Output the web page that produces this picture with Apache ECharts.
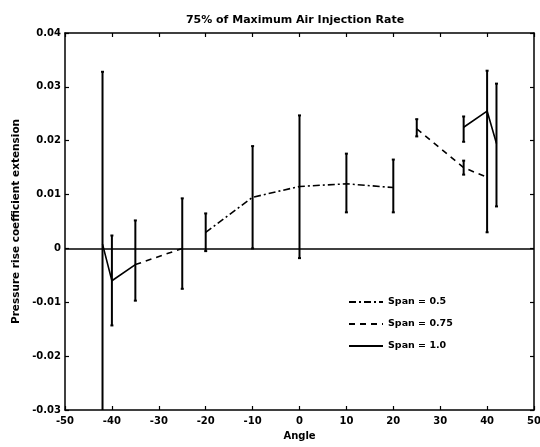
<!DOCTYPE html>
<html><head><meta charset="utf-8">
<script src="https://cdn.jsdelivr.net/npm/echarts@6/dist/echarts.min.js"></script>
<style>html,body{margin:0;padding:0;background:#fff}#c{width:540px;height:447px}</style>
</head><body><div id="c"></div>
<script>
const titleText = '75% of Maximum Air Injection Rate';
const xTicks = [-50,-40,-30,-20,-10,0,10,20,30,40,50];
const yTicks = [-0.03,-0.02,-0.01,0,0.01,0.02,0.03,0.04];
// Span = 0.5 (dash-dot)
const span05 = [[-20,0.003],[-10,0.0095],[0,0.0115],[10,0.012],[20,0.0113]];
// Span = 0.75 (dashed), two segments
const span075a = [[-35,-0.003],[-25,0.0]];
const span075b = [[25,0.0222],[35,0.015],[40,0.0132]];
// Span = 1.0 (solid), two segments
const span10a = [[-42,0.0008],[-40,-0.006],[-35,-0.003]];
const span10b = [[35,0.0225],[40,0.0255],[42,0.0195]];
// error bars [x, low, high]
const errBars = [
  [-42,-0.031,0.0328],[-40,-0.0143,0.0024],[-35,-0.0097,0.0052],
  [-25,-0.0075,0.0093],[-20,-0.0005,0.0065],[-10,0.0,0.019],
  [0,-0.0018,0.0247],[10,0.0067,0.0176],[20,0.0067,0.0165],
  [25,0.0208,0.024],[35,0.0137,0.0163],[35,0.0198,0.0245],
  [40,0.003,0.033],[42,0.0078,0.0306]
];
const ff = 'DejaVu Sans, Liberation Sans, Arial, sans-serif';
const chart = echarts.init(document.getElementById('c'));
const dashDot = [7,3,2,3];
const dashed = [6,5];
function lineSeries(name, data, type){
  return {name, type:'line', data, symbol:'none', z:3,
    lineStyle:{color:'#000', width:1.6, type}, itemStyle:{color:'#000'}};
}
const axisCommon = {
  type:'value', min:-50, max:50, interval:10,
  axisLine:{show:true,onZero:false,lineStyle:{color:'#000',width:1.5}},
  axisTick:{show:true,inside:true,length:4,lineStyle:{color:'#000',width:1.2}},
  splitLine:{show:false}
};
chart.setOption({
  animation:false,
  backgroundColor:'#fff',
  title:{text:titleText,left:290,top:10,textAlign:'center',
    textStyle:{fontFamily:ff,fontSize:11,fontWeight:'bold',color:'#000'}},
  grid:{left:65,right:6,top:33,bottom:37,containLabel:false,outerBoundsMode:'none'},
  legend:{orient:'vertical',left:343,top:292,itemWidth:34,itemHeight:10,itemGap:12,
    itemStyle:{opacity:0},
    data:['Span = 0.5','Span = 0.75','Span = 1.0'],
    textStyle:{fontFamily:ff,fontSize:9.5,fontWeight:'bold',color:'#000'}},
  xAxis:[
    Object.assign({}, axisCommon, {position:'bottom', name:'Angle', nameLocation:'middle', nameGap:21,
      nameTextStyle:{fontFamily:ff,fontSize:10,fontWeight:'bold',color:'#000'},
      axisLabel:{fontFamily:ff,fontSize:10,fontWeight:'bold',color:'#000',margin:6,
        formatter:v=>xTicks.includes(v)?String(v):''}}),
    Object.assign({}, axisCommon, {position:'top', axisLabel:{show:false}})
  ],
  yAxis:[
    {type:'value',min:-0.03,max:0.04,interval:0.01,position:'left',
      name:'Pressure rise coefficient extension',nameLocation:'middle',nameGap:40,
      nameTextStyle:{fontFamily:ff,fontSize:10.5,fontWeight:'bold',color:'#000'},
      axisLine:{show:true,onZero:false,lineStyle:{color:'#000',width:1.5}},
      axisTick:{show:true,inside:true,length:4,lineStyle:{color:'#000',width:1.2}},
      splitLine:{show:false},
      axisLabel:{fontFamily:ff,fontSize:10,fontWeight:'bold',color:'#000',margin:4,
        formatter:v=>{const r=Math.round(v*100)/100; return yTicks.some(t=>Math.abs(t-r)<1e-9)?(r===0?'0':r.toFixed(2)):'';}}},
    {type:'value',min:-0.03,max:0.04,interval:0.01,position:'right',
      axisLine:{show:true,onZero:false,lineStyle:{color:'#000',width:1.5}},
      axisTick:{show:true,inside:true,length:4,lineStyle:{color:'#000',width:1.2}},
      splitLine:{show:false},axisLabel:{show:false}}
  ],
  series:[
    lineSeries('Span = 0.5', span05, dashDot),
    lineSeries('Span = 0.75', span075a, dashed),
    lineSeries('Span = 0.75', span075b, dashed),
    lineSeries('Span = 1.0', span10a, 'solid'),
    lineSeries('Span = 1.0', span10b, 'solid'),
    {type:'custom', name:'err', data:errBars, clip:true, z:4,
      encode:{x:0,y:[1,2]},
      renderItem:function(params, api){
        const x = api.value(0);
        const lo = api.coord([x, api.value(1)]);
        const hi = api.coord([x, api.value(2)]);
        const cw = 1.5;
        const style = {stroke:'#000', lineWidth:2};
        return {type:'group', children:[
          {type:'line', shape:{x1:lo[0],y1:lo[1],x2:hi[0],y2:hi[1]}, style},
          {type:'line', shape:{x1:lo[0]-cw,y1:lo[1],x2:lo[0]+cw,y2:lo[1]}, style},
          {type:'line', shape:{x1:hi[0]-cw,y1:hi[1],x2:hi[0]+cw,y2:hi[1]}, style}
        ]};
      }},
    {type:'line', name:'zero', data:[], symbol:'none',
      markLine:{silent:true, symbol:['none','none'], label:{show:false},
        lineStyle:{color:'#000',width:1.6,type:'solid'}, data:[{yAxis:0}]}}
  ]
});
</script></body></html>
